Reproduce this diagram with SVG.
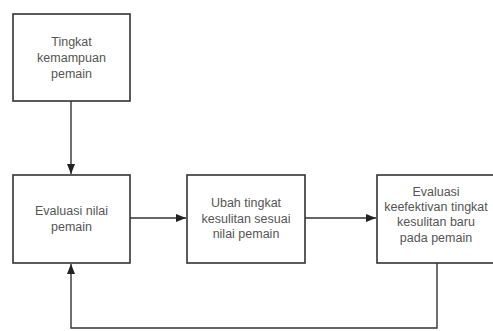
<svg xmlns="http://www.w3.org/2000/svg" width="493" height="331" viewBox="0 0 493 331">
<defs>
<marker id="ah" viewBox="0 0 10 10" refX="10" refY="5" markerWidth="10" markerHeight="10" markerUnits="userSpaceOnUse" orient="auto">
<path d="M0,1 L10,5 L0,9 Z" fill="#222"/>
</marker>
<style>
.box{fill:#fff;stroke:#333;stroke-width:1.6}
.t{font-family:"Liberation Sans",Arial,sans-serif;font-size:12.5px;fill:#555;text-anchor:middle}
.c{fill:none;stroke:#333;stroke-width:1.4}
</style>
</defs>
<rect width="493" height="331" fill="#fff"/>
<g id="n1">
<rect class="box" x="13" y="14" width="117" height="87"/>
<text class="t" x="71.5" y="46">Tingkat</text>
<text class="t" x="71.5" y="62">kemampuan</text>
<text class="t" x="71.5" y="78">pemain</text>
</g>
<g id="n2">
<rect class="box" x="13" y="175" width="117" height="88"/>
<text class="t" x="71.5" y="215">Evaluasi nilai</text>
<text class="t" x="71.5" y="231">pemain</text>
</g>
<g id="n3">
<rect class="box" x="187" y="175" width="118" height="88"/>
<text class="t" x="246" y="207">Ubah tingkat</text>
<text class="t" x="246" y="223">kesulitan sesuai</text>
<text class="t" x="246" y="238">nilai pemain</text>
</g>
<g id="n4">
<rect class="box" x="377" y="175" width="122" height="88"/>
<text class="t" x="436" y="196">Evaluasi</text>
<text class="t" x="436" y="211">keefektivan tingkat</text>
<text class="t" x="436" y="226">kesulitan baru</text>
<text class="t" x="436" y="242">pada pemain</text>
</g>
<g id="connectors">
<path class="c" d="M71,101 V174" marker-end="url(#ah)"/>
<path class="c" d="M130,218 H186" marker-end="url(#ah)"/>
<path class="c" d="M305,218 H376" marker-end="url(#ah)"/>
<path class="c" d="M437,263 V328 H71 V264" marker-end="url(#ah)"/>
</g>
</svg>
